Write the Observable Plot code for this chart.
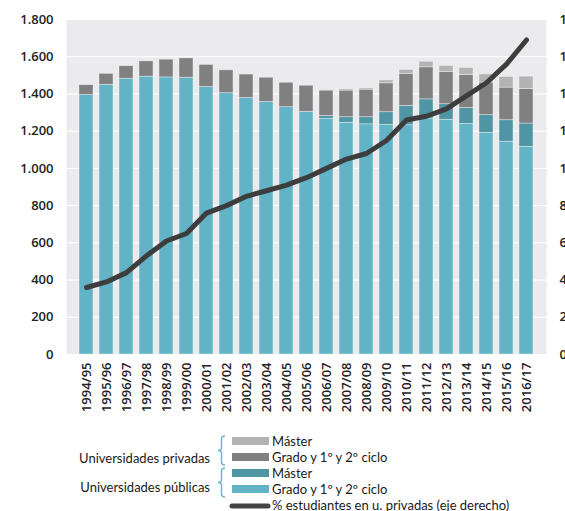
<!DOCTYPE html>
<html><head><meta charset="utf-8">
<script src="https://cdn.jsdelivr.net/npm/d3@7"></script>
<script src="https://cdn.jsdelivr.net/npm/@observablehq/plot@0.6"></script>
<style>
body{margin:0;background:#fff;}
#wrap{position:relative;width:565px;height:511px;overflow:hidden;font-family:Lato,"Noto Sans",sans-serif;}
#chart svg{overflow:visible;}
.sw{position:absolute;left:232px;width:37px;height:8px;}
.lt{position:absolute;left:272px;font-size:13px;color:#1a1a1a;line-height:16px;white-space:nowrap;}
.gl{position:absolute;right:355px;font-size:13px;color:#1a1a1a;line-height:16px;white-space:nowrap;}
</style>
</head><body>
<div id="wrap">
<div id="chart"></div>
<svg id="br" width="565" height="511" style="position:absolute;left:0;top:0;pointer-events:none"></svg>
<div class="gl" style="top:450px">Universidades privadas</div>
<div class="gl" style="top:479px">Universidades públicas</div>
<div class="sw" style="top:437px;background:#b3b3b3"></div><div class="lt" style="top:433px">Máster</div>
<div class="sw" style="top:453px;background:#808080"></div><div class="lt" style="top:449px">Grado y 1º y 2º ciclo</div>
<div class="sw" style="top:469px;background:#4f95a3"></div><div class="lt" style="top:465px">Máster</div>
<div class="sw" style="top:485px;background:#63b3c7"></div><div class="lt" style="top:481px">Grado y 1º y 2º ciclo</div>
<div class="lt" style="top:497px">% estudiantes en u. privadas (eje derecho)</div>
</div>
<script>
const years = ["1994/95","1995/96","1996/97","1997/98","1998/99","1999/00","2000/01","2001/02","2002/03","2003/04","2004/05","2005/06","2006/07","2007/08","2008/09","2009/10","2010/11","2011/12","2012/13","2013/14","2014/15","2015/16","2016/17"];
const pubGrado  = [1394,1449,1482,1493,1489,1487,1438,1404,1378,1357,1329,1304,1266,1245,1237,1234,1232,1268,1261,1239,1191,1143,1116];
const pubMaster = [0,0,0,0,0,0,0,0,0,0,0,0,16,30,38,68,104,103,84,86,95,116,125];
const privGrado = [53,59,67,82,95,104,118,123,126,130,131,140,136,143,148,155,171,172,173,177,175,175,186];
const privMaster= [0,0,0,0,0,0,0,0,0,0,0,0,3,7,7,16,22,30,32,37,44,57,66];
const pctPrivadas = [3.6,3.9,4.4,5.3,6.1,6.5,7.6,8.0,8.5,8.8,9.1,9.5,10.0,10.5,10.8,11.5,12.6,12.8,13.2,13.9,14.6,15.6,16.9];
const seriesNames = ["Públicas grado","Públicas máster","Privadas grado","Privadas máster"];
const seriesColors = ["#63b3c7","#4f95a3","#808080","#b3b3b3"];
const yTicks = [0,200,400,600,800,1000,1200,1400,1600,1800];

const seriesVals = [pubGrado,pubMaster,privGrado,privMaster];
const rows = [];
seriesNames.forEach((s,si)=>years.forEach((y,i)=>rows.push({year:y,serie:s,value:seriesVals[si][i]})));
const lineData = years.map((y,i)=>({year:y,pct:pctPrivadas[i]}));

const es = d3.formatLocale({decimal:",",thousands:".",grouping:[3],currency:["","€"]});
const fmt = es.format(",");

const plot = Plot.plot({
  width:565, height:430,
  marginTop:19, marginBottom:76, marginLeft:66, marginRight:19,
  style:{fontFamily:"'Open Sans',sans-serif",fontSize:"13px",fontWeight:600,color:"#222",background:"transparent"},
  x:{type:"band",domain:years,paddingInner:0.28,paddingOuter:0.14,label:null},
  y:{domain:[0,1800],label:null},
  color:{domain:seriesNames,range:seriesColors},
  marks:[
    Plot.frame({fill:"#ebebed",stroke:null}),
    Plot.gridY(yTicks,{stroke:"#fff",strokeOpacity:1,strokeWidth:1}),
    Plot.barY(rows,{x:"year",y:"value",fill:"serie",stroke:"#fff",strokeOpacity:0.45,strokeWidth:0.8}),
    Plot.line(lineData,{x:"year",y:d=>d.pct*100,stroke:"#3d3d3d",strokeWidth:5,strokeLinecap:"round",strokeLinejoin:"round"}),
    Plot.axisY({ticks:yTicks,tickFormat:fmt,tickSize:0,tickPadding:13,label:null}),
    Plot.axisY({anchor:"right",ticks:yTicks,tickFormat:d=>String(d/100),tickSize:0,tickPadding:13,label:null}),
    Plot.axisX({tickRotate:-90,tickSize:0,tickPadding:8,label:null})
  ]
});
document.getElementById("chart").appendChild(plot);

const br = d3.select("#br");
function bracket(y0,y1){
  const m=(y0+y1)/2;
  br.append("path").attr("d",`M225,${y0} Q221.5,${y0} 221.5,${y0+3} L221.5,${m-3} Q221.5,${m} 218,${m} Q221.5,${m} 221.5,${m+3} L221.5,${y1-3} Q221.5,${y1} 225,${y1}`)
    .attr("fill","none").attr("stroke","#6cb6cf").attr("stroke-width",1.5);
}
bracket(436,465);
bracket(468,497);
br.append("line").attr("x1",232).attr("x2",268).attr("y1",506).attr("y2",506).attr("stroke","#444").attr("stroke-width",5).attr("stroke-linecap","round");
</script>
</body></html>
